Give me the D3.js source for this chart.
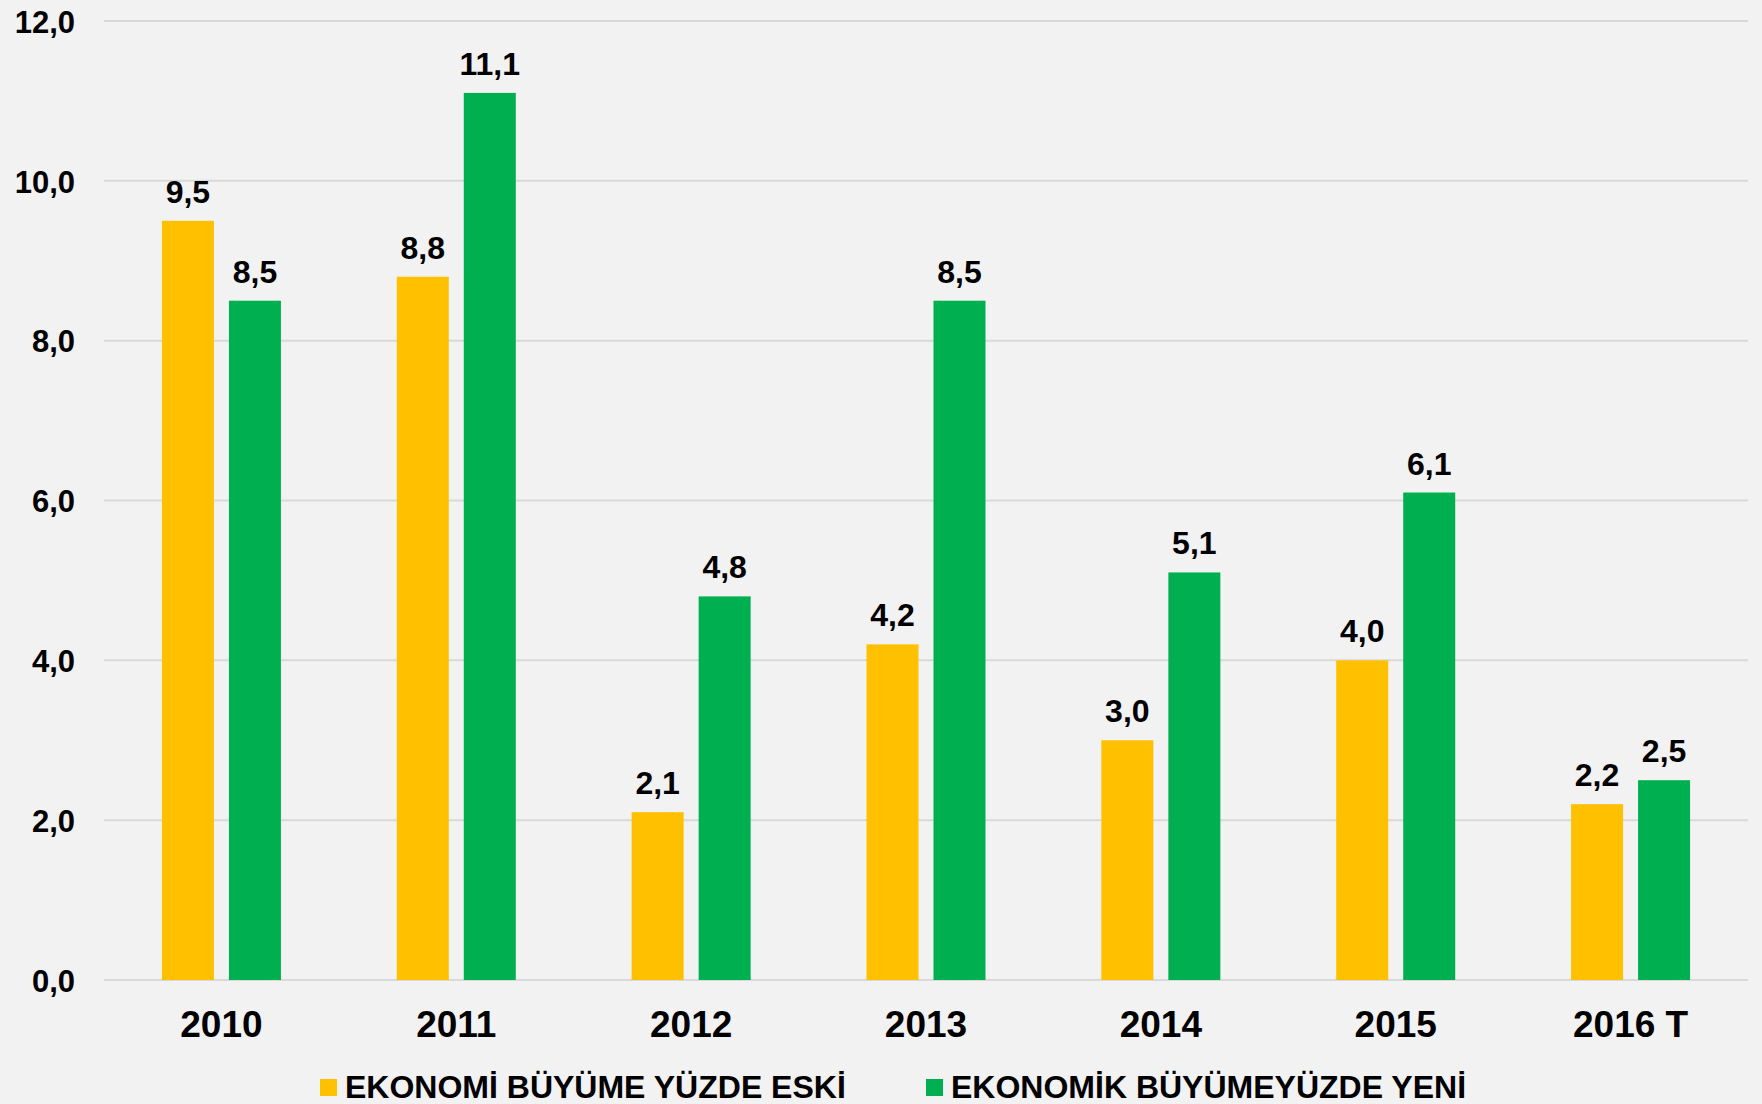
<!DOCTYPE html>
<html>
<head>
<meta charset="utf-8">
<script src="https://cdn.jsdelivr.net/npm/d3@7"></script>
<style>
  html, body { margin: 0; padding: 0; background: #F2F2F2; }
  text { font-family: "Liberation Sans", Arial, sans-serif; font-weight: bold; fill: #000; }
</style>
</head>
<body>
<div id="chart"></div>
<script>
// --------------------------------------
//  Data
// --------------------------------------

const years = ["2010", "2011", "2012", "2013", "2014", "2015", "2016 T"];
const seriesNames = ["EKONOMİ BÜYÜME YÜZDE ESKİ", "EKONOMİK BÜYÜMEYÜZDE YENİ"];
const eski = [9.5, 8.8, 2.1, 4.2, 3.0, 4.0, 2.2];
const yeni = [8.5, 11.1, 4.8, 8.5, 5.1, 6.1, 2.5];
const yTicks = [0, 2, 4, 6, 8, 10, 12];
const colors = ["#FFC000", "#00B050"];

// --------------------------------------
//  Margin and canvas
// --------------------------------------

const width = 1762;
const height = 1104;
const margin = {top: 21, right: 14, bottom: 124, left: 104};

const svg = d3.select("#chart")
  .append("svg")
    .attr("width", width)
    .attr("height", height)
    .attr("viewBox", `0, 0, ${width}, ${height}`);

svg.append("rect")
    .attr("width", width)
    .attr("height", height)
    .attr("fill", "#F2F2F2");

const locale = d3.formatLocale({decimal: ",", thousands: ".", grouping: [3], currency: ["", ""]});
const format = locale.format(".1f");

// --------------------------------------
//  Scales
// --------------------------------------

const x0 = d3.scaleBand()
    .domain(years)
    .range([margin.left, width - margin.right]);

const x1 = d3.scaleBand()
    .domain([0, 1])
    .range([x0.bandwidth() / 2 - 59.5, x0.bandwidth() / 2 + 59.5])
    .paddingInner(0.224);

const y = d3.scaleLinear()
    .domain([0, 12])
    .range([height - margin.bottom, margin.top]);

// --------------------------------------
//  Grid and axes
// --------------------------------------

svg.append("g")
    .selectAll("line")
    .data(yTicks)
    .join("line")
    .attr("x1", margin.left)
    .attr("x2", width - margin.right)
    .attr("y1", d => y(d))
    .attr("y2", d => y(d))
    .attr("stroke", "#D9D9D9")
    .attr("stroke-width", 2);

const yAxis = svg.append("g")
    .attr("transform", `translate(${margin.left}, 0)`)
    .call(d3.axisLeft(y)
        .tickValues(yTicks)
        .tickSize(0)
        .tickPadding(29)
        .tickFormat(format));
yAxis.select(".domain").remove();
yAxis.selectAll("text")
    .attr("font-size", 31)
    .attr("font-family", null)
    .attr("dy", "0.36em");

const xAxis = svg.append("g")
    .attr("transform", `translate(0, ${y(0)})`)
    .call(d3.axisBottom(x0).tickSize(0).tickPadding(31));
xAxis.select(".domain").remove();
xAxis.selectAll("text")
    .attr("font-size", 37)
    .attr("font-family", null)
    .attr("dy", "0.71em");

// --------------------------------------
//  Bars
// --------------------------------------

const table = years.map((yr, i) => ({year: yr, values: [eski[i], yeni[i]]}));

const groups = svg.append("g")
    .selectAll("g")
    .data(table)
    .join("g")
    .attr("transform", d => `translate(${x0(d.year)}, 0)`);

groups.selectAll("rect")
    .data(d => d.values.map((v, k) => ({k, v})))
    .join("rect")
    .attr("x", d => x1(d.k))
    .attr("y", d => y(d.v))
    .attr("width", x1.bandwidth())
    .attr("height", d => y(0) - y(d.v))
    .attr("fill", d => colors[d.k]);

groups.selectAll("text")
    .data(d => d.values.map((v, k) => ({k, v})))
    .join("text")
    .attr("x", d => x1(d.k) + x1.bandwidth() / 2)
    .attr("y", d => y(d.v) - 18)
    .attr("text-anchor", "middle")
    .attr("font-size", 32)
    .text(d => format(d.v));

// --------------------------------------
//  Legend
// --------------------------------------

const legendX = [320, 926];
const legend = svg.append("g")
    .selectAll("g")
    .data(seriesNames)
    .join("g")
    .attr("transform", (d, i) => `translate(${legendX[i]}, 1079)`);

legend.append("rect")
    .attr("width", 17)
    .attr("height", 17)
    .attr("fill", (d, i) => colors[i]);

legend.append("text")
    .attr("x", 25)
    .attr("y", 19)
    .attr("font-size", 32)
    .text(d => d);
</script>
</body>
</html>
